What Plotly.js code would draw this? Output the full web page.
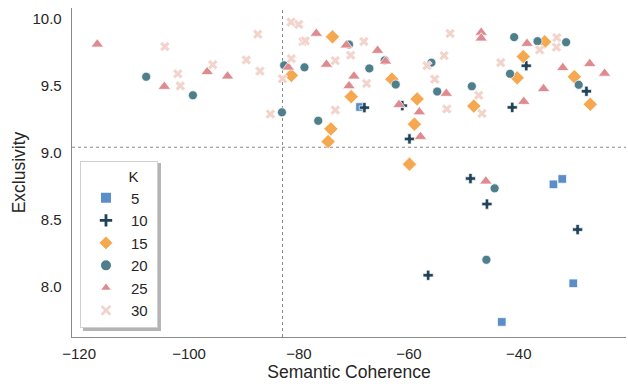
<!DOCTYPE html>
<html>
<head>
<meta charset="utf-8">
<script src="https://cdn.plot.ly/plotly-3.0.1.min.js"></script>
<style>html,body{margin:0;padding:0;background:#fff;}#chart{width:628px;height:386px;}</style>
</head>
<body>
<div id="chart"></div>
<script>
// Data
var kLabels = ["5", "10", "15", "20", "25", "30"];

var k5X = [-68.9, -33.7, -32.1, -30.1, -43.1];
var k5Y = [9.34, 8.764, 8.804, 8.027, 7.739];

var k10X = [-68.1, -61.2, -59.9, -56.5, -38.65, -41.2, -27.7, -48.8, -45.8, -29.3];
var k10Y = [9.335, 9.35, 9.102, 8.087, 9.647, 9.337, 9.457, 8.807, 8.617, 8.427];

var k15X = [-73.9, -81.4, -63.1, -70.5, -74.2, -74.7, -58.5, -59.0, -59.9, -48.2, -35.3, -39.2, -40.3, -29.9, -27.0];
var k15Y = [9.862, 9.575, 9.547, 9.417, 9.177, 9.082, 9.40, 9.212, 8.914, 9.347, 9.825, 9.715, 9.557, 9.565, 9.36];

var k20X = [-107.8, -99.3, -70.9, -82.7, -79.0, -64.4, -67.2, -62.4, -83.1, -76.5, -54.85, -55.9, -48.55, -40.85, -36.6, -31.4, -41.6, -29.1, -44.4, -45.9];
var k20Y = [9.565, 9.427, 9.805, 9.65, 9.635, 9.687, 9.627, 9.507, 9.30, 9.237, 9.455, 9.67, 9.494, 9.86, 9.83, 9.822, 9.587, 9.505, 8.734, 8.202];

var k25X = [-116.7, -104.5, -96.7, -93.0, -76.85, -71.4, -65.7, -81.95, -75.0, -64.25, -70.0, -70.9, -61.8, -53.2, -58.1, -57.9, -46.85, -46.85, -38.5, -35.5, -39.1, -32.0, -27.1, -24.4, -46.0];
var k25Y = [9.807, 9.492, 9.602, 9.569, 9.887, 9.80, 9.76, 9.635, 9.657, 9.68, 9.569, 9.497, 9.357, 9.44, 9.302, 9.119, 9.895, 9.852, 9.812, 9.475, 9.38, 9.632, 9.662, 9.59, 8.787];

var k30X = [-104.4, -102.05, -101.6, -95.7, -89.6, -87.5, -87.1, -81.45, -80.05, -79.3, -78.85, -68.2, -70.6, -81.4, -73.4, -83.0, -67.7, -73.4, -85.2, -53.6, -56.7, -55.3, -52.5, -53.1, -47.3, -46.7, -33.1, -33.15, -36.2, -43.3];
var k30Y = [9.79, 9.587, 9.497, 9.655, 9.69, 9.882, 9.607, 9.972, 9.955, 9.827, 9.832, 9.827, 9.725, 9.70, 9.685, 9.55, 9.515, 9.317, 9.287, 9.722, 9.647, 9.547, 9.887, 9.325, 9.427, 9.292, 9.857, 9.785, 9.765, 9.67];

var coherenceCut = -83.0;
var exclusivityCut = 9.04;

var seriesX = [k5X, k10X, k15X, k20X, k25X, k30X];
var seriesY = [k5Y, k10Y, k15Y, k20Y, k25Y, k30Y];
var colors = ["#5b8dc8", "#20435a", "#f5a84f", "#4e7f8b", "#de8a8f", "#f2d4cc"];
var symbols = ["square", "cross", "diamond", "circle", "triangle-up", "x"];
var sizes = [8.5, 8.5, 11, 9, 11, 9];

var traces = kLabels.map(function (k, i) {
  return {
    type: "scatter",
    mode: "markers",
    name: k + "\u00a0",
    x: seriesX[i],
    y: seriesY[i],
    marker: {
      symbol: symbols[i],
      color: colors[i],
      size: sizes[i],
      line: {color: "#ffffff", width: 0.7}
    },
    hoverinfo: "x+y+name"
  };
});

var font = "Liberation Sans, Arial, sans-serif";

var layout = {
  width: 628,
  height: 386,
  margin: {l: 72, r: 2, t: 8, b: 49, pad: 0},
  paper_bgcolor: "#ffffff",
  plot_bgcolor: "#ffffff",
  font: {family: font, size: 15, color: "#262626"},
  showlegend: true,
  xaxis: {
    range: [-121.3, -20.5],
    tick0: -120,
    dtick: 20,
    showgrid: false,
    zeroline: false,
    showline: true,
    linecolor: "#8a8a8a",
    linewidth: 1.3,
    ticks: "outside",
    ticklen: 3,
    tickcolor: "rgba(0,0,0,0)",
    tickfont: {size: 15, color: "#262626"},
    title: {text: "Semantic Coherence", font: {size: 17.5, color: "#262626"}, standoff: 4}
  },
  yaxis: {
    range: [7.627, 10.077],
    tick0: 8,
    dtick: 0.5,
    tickformat: ".1f",
    showgrid: false,
    zeroline: false,
    showline: true,
    linecolor: "#8a8a8a",
    linewidth: 1.3,
    ticks: "outside",
    ticklen: 6,
    tickcolor: "rgba(0,0,0,0)",
    tickfont: {size: 15, color: "#262626"},
    title: {text: "Exclusivity", font: {size: 17.5, color: "#262626"}, standoff: 2}
  },
  shapes: [
    {type: "line", xref: "x", yref: "paper", x0: coherenceCut, x1: coherenceCut, y0: 0, y1: 1,
     line: {color: "#8a8a8a", width: 1, dash: "3px,3px"}, layer: "below"},
    {type: "line", xref: "paper", yref: "y", x0: 0, x1: 1, y0: exclusivityCut, y1: exclusivityCut,
     line: {color: "#8a8a8a", width: 1, dash: "3px,3px"}, layer: "below"},
    {type: "rect", xref: "paper", yref: "paper", x0: 0.0199, x1: 0.1606, y0: 0.018, y1: 0.529,
     fillcolor: "#b4b4b4", line: {width: 0}, layer: "above"}
  ],
  legend: {
    x: 0.0144,
    y: 0.027,
    xanchor: "left",
    yanchor: "bottom",
    bgcolor: "#ffffff",
    bordercolor: "#d0d0d0",
    borderwidth: 1,
    itemwidth: 40,
    font: {size: 15, color: "#262626"},
    title: {text: "\u00a0\u00a0\u00a0\u00a0\u00a0\u00a0\u00a0K", side: "top center", font: {size: 15, color: "#262626"}},
    itemsizing: "constant"
  }
};

Plotly.newPlot("chart", traces, layout, {displayModeBar: false, staticPlot: true});
</script>
</body>
</html>
